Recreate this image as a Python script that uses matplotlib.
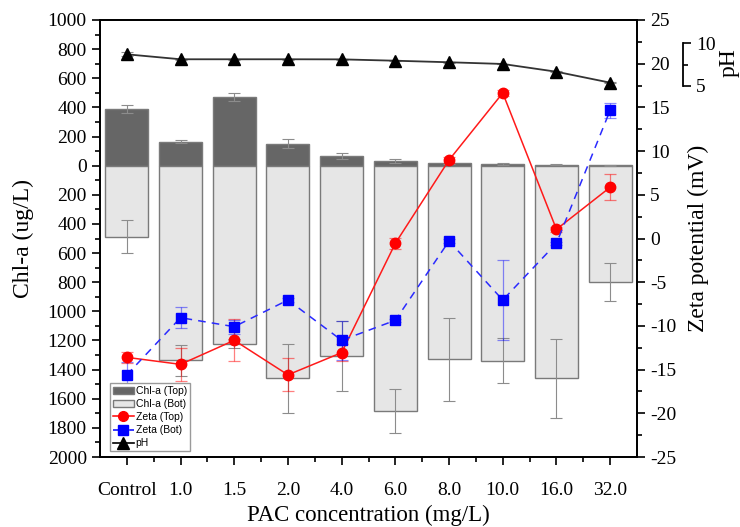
import matplotlib
matplotlib.use("Agg")
import matplotlib.pyplot as plt
import numpy as np
from matplotlib.patches import Patch
from matplotlib.lines import Line2D
from matplotlib.ticker import MultipleLocator, FuncFormatter

plt.rcParams['font.family'] = ['Liberation Serif', 'DejaVu Serif']
plt.rcParams['axes.unicode_minus'] = False

categories = ["Control", "1.0", "1.5", "2.0", "4.0", "6.0", "8.0", "10.0", "16.0", "32.0"]

chla_top = [390, 164, 473, 151, 66, 32, 16, 14, 7, 2]
chla_top_err = [27, 10, 28, 30, 20, 15, 5, 7, 2, 1]
chla_bot = [488, 1336, 1221, 1461, 1308, 1685, 1329, 1340, 1461, 797]
chla_bot_err = [112, 105, 30, 238, 240, 150, 285, 155, 272, 130]

zeta_top = [-13.6, -14.4, -11.65, -15.6, -13.06, -0.55, 8.98, 16.65, 1.05, 5.86]
zeta_top_err = [0.6, 1.9, 2.4, 1.9, 1.0, 0.6, 0.3, 0.3, 0.3, 1.5]
zeta_bot = [-15.6, -9.06, -10.09, -7.04, -11.65, -9.36, -0.29, -7.04, -0.55, 14.67]
zeta_bot_err = [1.5, 1.2, 0.8, 0.2, 2.2, 0.2, 0.2, 4.6, 0.2, 0.85]

ph = [8.71, 8.13, 8.13, 8.13, 8.12, 7.96, 7.78, 7.58, 6.67, 5.39]
ph_err = [0.25, 0.05, 0.05, 0.05, 0.05, 0.05, 0.05, 0.05, 0.05, 0.05]

x = np.arange(len(categories))

fig = plt.figure(figsize=(7.4, 5.27), dpi=100)
ax = fig.add_axes([100/740, 70/527, 537/740, 437/527])

dark = '#666666'
light = '#e6e6e6'
edge = '#7a7a7a'
ax.bar(x, chla_top, width=0.8, color=dark, edgecolor=edge, linewidth=1.0, zorder=2)
ax.bar(x, [-v for v in chla_bot], width=0.8, color=light, edgecolor=edge, linewidth=1.0, zorder=2)
ax.errorbar(x, chla_top, yerr=chla_top_err, fmt='none', ecolor='#8c8c8c', elinewidth=0.8, capsize=4, capthick=0.8, zorder=3)
ax.errorbar(x, [-v for v in chla_bot], yerr=chla_bot_err, fmt='none', ecolor='#8c8c8c', elinewidth=0.8, capsize=4, capthick=0.8, zorder=3)

ax.set_xlim(-0.5, len(categories) - 0.5)
ax.set_ylim(-2000, 1000)
ax.yaxis.set_major_locator(MultipleLocator(200))
ax.yaxis.set_minor_locator(MultipleLocator(100))
ax.yaxis.set_major_formatter(FuncFormatter(lambda v, p: f"{abs(int(round(v)))}"))
ax.set_xticks(x)
ax.set_xticklabels(categories)
ax.set_xticks(x[:-1] + 0.5, minor=True)
ax.tick_params(axis='both', which='major', direction='out', length=6, width=1.2, labelsize=14)
ax.tick_params(axis='both', which='minor', direction='out', length=3.5, width=1.2)
ax.tick_params(axis='x', which='major', pad=12)
ax.set_ylabel("Chl-a (ug/L)", fontsize=17, labelpad=10)
ax.set_xlabel("PAC concentration (mg/L)", fontsize=16.5, va='center')
ax.xaxis.set_label_coords(0.5, (457 - 515) / 437)
for s in ax.spines.values():
    s.set_linewidth(1.3)

# Zeta axis
ax2 = ax.twinx()
ax2.set_ylim(-25, 25)
ax2.yaxis.set_major_locator(MultipleLocator(5))
ax2.yaxis.set_minor_locator(MultipleLocator(2.5))
ax2.tick_params(axis='y', which='major', direction='out', length=6, width=1.2, labelsize=14)
ax2.tick_params(axis='y', which='minor', direction='out', length=3.5, width=1.2)
ax2.errorbar(x, zeta_top, yerr=zeta_top_err, fmt='none', ecolor=(1, 0, 0, 0.5), elinewidth=0.9, capsize=4, capthick=0.9, zorder=3)
ax2.errorbar(x, zeta_bot, yerr=zeta_bot_err, fmt='none', ecolor=(0, 0, 1, 0.45), elinewidth=0.9, capsize=4, capthick=0.9, zorder=3)
ax2.plot(x, zeta_top, '-', color='#ff1a1a', lw=1.1, marker='o', markersize=7.5, markerfacecolor='red', markeredgecolor='red', zorder=4)
ax2.plot(x, zeta_bot, '--', color='#2a2aff', lw=1.1, dashes=(5, 4), marker='s', markersize=7, markerfacecolor='#0000ff', markeredgecolor='#0000ff', zorder=4)
ax2.set_ylabel("Zeta potential (mV)", fontsize=17, rotation=90, labelpad=8)
for s in ax2.spines.values():
    s.set_linewidth(1.3)

# pH axis
ax3 = ax.twinx()
ph_span = 5 / ((43.3 - 86.0) / -437.0)
ph_min = 5 - ((457 - 86.0) / 437.0) * ph_span
ax3.set_ylim(ph_min, ph_min + ph_span)
ax3.spines['right'].set_position(('axes', (683 - 100) / 537))
ax3.spines['right'].set_bounds(5, 10)
ax3.spines['right'].set_linewidth(1.3)
for k in ['top', 'left', 'bottom']:
    ax3.spines[k].set_visible(False)
ax3.set_yticks([5, 10])
ax3.set_yticks([7.5], minor=True)
ax3.tick_params(axis='y', which='major', direction='out', length=6, width=1.2, labelsize=14)
ax3.tick_params(axis='y', which='minor', direction='out', length=3.5, width=1.2)
ax3.errorbar(x, ph, yerr=ph_err, fmt='none', ecolor='#8c8c8c', elinewidth=0.8, capsize=4, capthick=0.8, zorder=3)
ax3.plot(x, ph, '-', color='#333333', lw=1.3, marker='^', markersize=9, markerfacecolor='black', markeredgecolor='black', zorder=4)
ax3.text((729 - 100) / 537, (457 - 63) / 437, "pH", transform=ax.transAxes, rotation=90,
         fontsize=17, ha='center', va='center')

handles = [
    Patch(facecolor=dark, edgecolor=edge, label='Chl-a (Top)'),
    Patch(facecolor=light, edgecolor=edge, label='Chl-a (Bot)'),
    Line2D([], [], color='red', lw=1.1, marker='o', markersize=7, label='Zeta (Top)'),
    Line2D([], [], color='blue', lw=1.1, ls='--', marker='s', markersize=6.5, label='Zeta (Bot)'),
    Line2D([], [], color='black', lw=1.2, marker='^', markersize=8, label='pH'),
]
leg = ax3.legend(handles=handles, loc='lower left', bbox_to_anchor=(0.014, 0.008),
                 prop={'family': 'Liberation Sans', 'size': 7.5}, frameon=True, fancybox=False,
                 edgecolor='#9a9a9a', framealpha=1, borderpad=0.3, labelspacing=0.3,
                 handlelength=2.0, handletextpad=0.2, borderaxespad=0.2)
leg.get_frame().set_linewidth(1.0)

fig.savefig("out.png", dpi=100)
